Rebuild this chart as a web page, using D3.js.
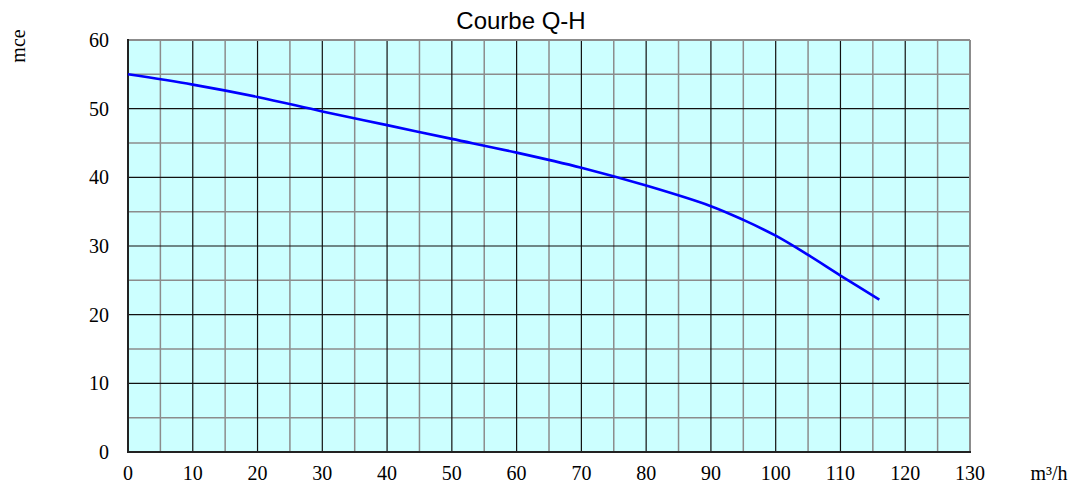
<!DOCTYPE html>
<html><head><meta charset="utf-8">
<script src="https://cdn.jsdelivr.net/npm/d3@7"></script>
<style>body{margin:0;background:#fff}</style>
</head><body>
<svg id="c" width="1079" height="488"></svg>
<script>
const flow = [0, 10, 20, 30, 40, 50, 60, 70, 80, 90, 95, 100, 105, 110, 116];
const head = [55, 53.5, 51.7, 49.6, 47.6, 45.6, 43.6, 41.4, 38.8, 35.8, 33.8, 31.5, 28.7, 25.7, 22.2];
const xTicks = [0,10,20,30,40,50,60,70,80,90,100,110,120,130];
const yTicks = [0,10,20,30,40,50,60];
const title = "Courbe Q-H", xUnit = "m³/h", yUnit = "mce";

const svg = d3.select("#c");
const L=128, R=970, T=40, B=452;
const x = d3.scaleLinear().domain([0,130]).range([L,R]);
const y = d3.scaleLinear().domain([0,60]).range([B,T]);

svg.append("rect").attr("x",L).attr("y",T).attr("width",R-L).attr("height",B-T).attr("fill","#ccffff");
const g = svg.append("g");
// minor grid
d3.range(5,130,10).forEach(v=>g.append("line").attr("x1",x(v)).attr("x2",x(v)).attr("y1",T).attr("y2",B).attr("stroke","#8c8c8c").attr("stroke-width",1.5));
d3.range(5,60,10).forEach(v=>g.append("line").attr("y1",y(v)).attr("y2",y(v)).attr("x1",L).attr("x2",R).attr("stroke","#8c8c8c").attr("stroke-width",1.5));
// major grid
xTicks.slice(1,-1).forEach(v=>g.append("line").attr("x1",x(v)).attr("x2",x(v)).attr("y1",T).attr("y2",B).attr("stroke","#111").attr("stroke-width",1.2));
yTicks.slice(1,-1).forEach(v=>g.append("line").attr("y1",y(v)).attr("y2",y(v)).attr("x1",L).attr("x2",R).attr("stroke","#111").attr("stroke-width",1.2));
// borders
g.append("line").attr("x1",L).attr("x2",R).attr("y1",T).attr("y2",T).attr("stroke","#8c8c8c").attr("stroke-width",2);
g.append("line").attr("x1",R).attr("x2",R).attr("y1",T).attr("y2",B).attr("stroke","#8c8c8c").attr("stroke-width",2);
g.append("line").attr("x1",L).attr("x2",L).attr("y1",T-1).attr("y2",B+1).attr("stroke","#222").attr("stroke-width",2);
g.append("line").attr("x1",L-1).attr("x2",R+1).attr("y1",B).attr("y2",B).attr("stroke","#222").attr("stroke-width",2);

// curve
const line = d3.line().x((d,i)=>x(flow[i])).y(d=>y(d)).curve(d3.curveCatmullRom);
svg.append("path").attr("d",line(head)).attr("fill","none").attr("stroke","#0000ff").attr("stroke-width",2.6);

// labels
const ff = "'Liberation Serif','Times New Roman',serif";
svg.selectAll(".xt").data(xTicks).enter().append("text").attr("x",d=>x(d)).attr("y",480)
  .attr("text-anchor","middle").attr("font-family",ff).attr("font-size",20).text(d=>d);
svg.selectAll(".yt").data(yTicks).enter().append("text").attr("x",109).attr("y",d=>y(d)+7)
  .attr("text-anchor","end").attr("font-family",ff).attr("font-size",20).text(d=>d);
svg.append("text").attr("x",1049).attr("y",480).attr("text-anchor","middle").attr("font-family",ff).attr("font-size",20).text(xUnit);
svg.append("text").attr("transform","translate(25,46) rotate(-90)").attr("text-anchor","middle").attr("font-family",ff).attr("font-size",20).text(yUnit);
svg.append("text").attr("x",521).attr("y",29).attr("text-anchor","middle").attr("font-family","'Liberation Sans',Arial,sans-serif").attr("font-size",24).text(title);
</script>
</body></html>
